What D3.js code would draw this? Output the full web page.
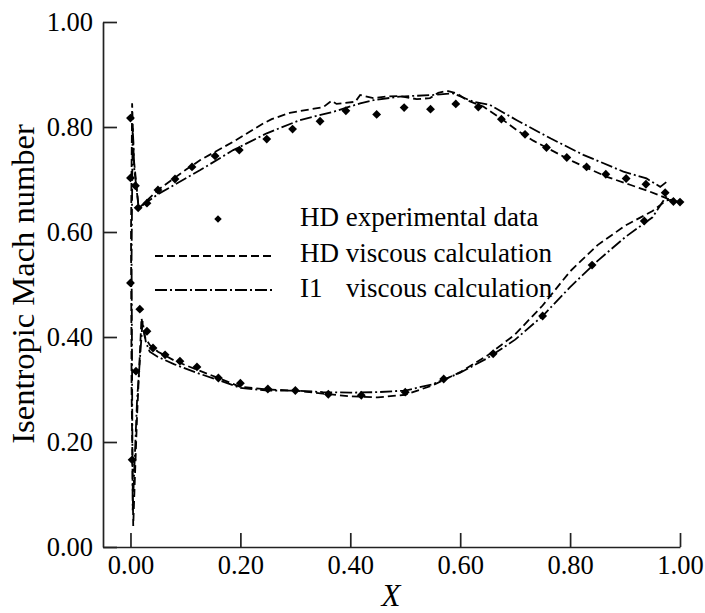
<!DOCTYPE html>
<html>
<head>
<meta charset="utf-8">
<script src="https://cdn.jsdelivr.net/npm/d3@7"></script>
<style>
  html, body { margin: 0; padding: 0; background: #fff; }
  svg { display: block; }
  text { font-family: "Liberation Serif", "Times New Roman", serif; fill: #000; }
</style>
</head>
<body>
<svg id="chart" width="705" height="613"></svg>
<script>
// Experimental isentropic Mach number (diamonds): suction side, then pressure side
const expX = [0, 0, 0.009, 0.014, 0.03, 0.05, 0.081, 0.112, 0.154, 0.198, 0.248, 0.295, 0.345, 0.392,
  0.448, 0.498, 0.546, 0.592, 0.633, 0.675, 0.718, 0.757, 0.794, 0.830, 0.865, 0.902, 0.938, 0.973,
  0.988, 1.0,
  0, 0.003, 0.01, 0.017, 0.03, 0.041, 0.063, 0.09, 0.121, 0.16, 0.2, 0.25, 0.3, 0.36, 0.42, 0.5,
  0.57, 0.66, 0.75, 0.84, 0.935];
const expM = [0.817, 0.703, 0.688, 0.646, 0.655, 0.680, 0.701, 0.724, 0.745, 0.756, 0.777, 0.796, 0.811, 0.831,
  0.824, 0.837, 0.834, 0.844, 0.838, 0.815, 0.786, 0.761, 0.742, 0.724, 0.710, 0.702, 0.691, 0.675,
  0.658, 0.657,
  0.503, 0.166, 0.335, 0.453, 0.411, 0.379, 0.366, 0.354, 0.343, 0.322, 0.312, 0.301, 0.298, 0.291, 0.289, 0.295,
  0.320, 0.368, 0.440, 0.537, 0.621];

// HD viscous calculation: trailing edge -> suction side -> leading edge -> pressure side -> trailing edge
const hdX = [1.0, 0.994, 0.976, 0.945, 0.909, 0.867, 0.806, 0.76, 0.733, 0.703, 0.676, 0.642, 0.612, 0.594,
  0.575, 0.56, 0.545, 0.521, 0.49, 0.466, 0.442, 0.418, 0.409, 0.375, 0.366, 0.351, 0.29, 0.257, 0.242,
  0.187, 0.127, 0.10, 0.08, 0.05, 0.03, 0.015, 0.006, 0.003, 0.001, 0.002, 0.005, 0.012, 0.02, 0.026,
  0.035, 0.05, 0.08, 0.12, 0.16, 0.2, 0.25, 0.3, 0.35, 0.4, 0.45, 0.5, 0.55, 0.6, 0.65, 0.7, 0.75, 0.8,
  0.85, 0.9, 0.95, 0.975, 0.99, 1.0];
const hdM = [0.655, 0.658, 0.664, 0.677, 0.690, 0.705, 0.734, 0.759, 0.774, 0.794, 0.815, 0.839, 0.851, 0.864,
  0.869, 0.865, 0.855, 0.853, 0.859, 0.858, 0.855, 0.861, 0.848, 0.844, 0.850, 0.838, 0.827, 0.815, 0.807,
  0.772, 0.737, 0.718, 0.703, 0.680, 0.660, 0.645, 0.740, 0.845, 0.600, 0.300, 0.040, 0.250, 0.436, 0.400,
  0.385, 0.372, 0.355, 0.338, 0.322, 0.305, 0.300, 0.298, 0.292, 0.287, 0.285, 0.290, 0.308, 0.333, 0.365,
  0.405, 0.460, 0.525, 0.575, 0.612, 0.640, 0.660, 0.662, 0.658];

// I1 viscous calculation, same ordering
const i1X = [0.975, 0.964, 0.939, 0.897, 0.824, 0.765, 0.703, 0.654, 0.624, 0.587, 0.551, 0.49, 0.442,
  0.418, 0.369, 0.308, 0.248, 0.187, 0.127, 0.08, 0.05, 0.03, 0.015, 0.007, 0.004, 0.002, 0.004, 0.012,
  0.022, 0.028, 0.035, 0.05, 0.08, 0.12, 0.16, 0.2, 0.25, 0.3, 0.35, 0.4, 0.45, 0.5, 0.55, 0.6, 0.65,
  0.7, 0.75, 0.8, 0.85, 0.9, 0.95, 0.97, 0.978];
const i1M = [0.695, 0.686, 0.702, 0.715, 0.747, 0.778, 0.813, 0.842, 0.848, 0.864, 0.861, 0.858, 0.851,
  0.845, 0.829, 0.813, 0.788, 0.756, 0.718, 0.690, 0.672, 0.657, 0.645, 0.720, 0.800, 0.550, 0.070, 0.280,
  0.430, 0.390, 0.372, 0.362, 0.348, 0.332, 0.318, 0.303, 0.298, 0.298, 0.295, 0.294, 0.295, 0.298, 0.310,
  0.332, 0.360, 0.395, 0.440, 0.495, 0.545, 0.590, 0.628, 0.660, 0.672];

const xTicks = [0, 0.2, 0.4, 0.6, 0.8, 1.0];
const yTicks = [0, 0.2, 0.4, 0.6, 0.8, 1.0];
const legendLabels = ["HD experimental data", "HD viscous calculation", "I1", "viscous calculation"];

const svg = d3.select("#chart");
const x = d3.scaleLinear().domain([-0.05, 1.0]).range([103, 680]);
const y = d3.scaleLinear().domain([0, 1.0]).range([547, 22]);
const fmt = d3.format(".2f");

// Axes: ticks point inward, no outer ticks
const gx = svg.append("g").attr("transform", `translate(0,${y(0)})`)
  .call(d3.axisBottom(x).tickValues(xTicks).tickFormat(fmt).tickSize(-14).tickSizeOuter(0).tickPadding(8));
const gy = svg.append("g").attr("transform", `translate(${x(-0.05)},0)`)
  .call(d3.axisLeft(y).tickValues(yTicks).tickFormat(fmt).tickSize(-14).tickSizeOuter(0).tickPadding(10));
[gx, gy].forEach(g => {
  g.selectAll("path.domain").attr("stroke", "#222").attr("stroke-width", 1.7);
  g.selectAll(".tick line").attr("stroke", "#222").attr("stroke-width", 1.7);
  g.selectAll(".tick text").attr("font-size", 26.5)
    .attr("font-family", '"Liberation Serif", "Times New Roman", serif').attr("fill", "#000");
});

// Axis titles
svg.append("text").attr("x", 391).attr("y", 606).attr("text-anchor", "middle")
  .attr("font-size", 31).attr("font-style", "italic").text("X");
svg.append("text").attr("transform", "translate(34,284) rotate(-90)").attr("text-anchor", "middle")
  .attr("font-size", 32.5).text("Isentropic Mach number");

// Calculated distributions
const line = d3.line().x(d => x(d[0])).y(d => y(d[1]));
const hdData = hdX.map((v, i) => [v, hdM[i]]);
const i1Data = i1X.map((v, i) => [v, i1M[i]]);
const dashHD = "8,4";
const dashI1 = "12,3,2,3";

svg.append("path").datum(hdData).attr("d", line).attr("fill", "none")
  .attr("stroke", "#000").attr("stroke-width", 1.8).attr("stroke-dasharray", dashHD);
svg.append("path").datum(i1Data).attr("d", line).attr("fill", "none")
  .attr("stroke", "#000").attr("stroke-width", 1.8).attr("stroke-dasharray", dashI1);

// Experimental points
const diamond = d3.symbol().type(d3.symbolDiamond2 || d3.symbolSquare).size(50);
svg.append("g").selectAll("path").data(expX.map((v, i) => [v, expM[i]])).join("path")
  .attr("d", diamond)
  .attr("transform", d => `translate(${x(d[0])},${y(d[1])})` + (d3.symbolDiamond2 ? "" : " rotate(45)"))
  .attr("fill", "#000");

// Legend
const lg = svg.append("g");
lg.append("path").attr("d", d3.symbol().type(d3.symbolDiamond2 || d3.symbolSquare).size(36))
  .attr("transform", "translate(218,219)" + (d3.symbolDiamond2 ? "" : " rotate(45)")).attr("fill", "#000");
lg.append("line").attr("x1", 155).attr("x2", 275).attr("y1", 256).attr("y2", 256)
  .attr("stroke", "#000").attr("stroke-width", 1.8).attr("stroke-dasharray", dashHD);
lg.append("line").attr("x1", 155).attr("x2", 275).attr("y1", 290).attr("y2", 290)
  .attr("stroke", "#000").attr("stroke-width", 1.8).attr("stroke-dasharray", dashI1);
lg.append("text").attr("x", 300).attr("y", 226).attr("font-size", 27).text(legendLabels[0]);
lg.append("text").attr("x", 300).attr("y", 262).attr("font-size", 27).text(legendLabels[1]);
const t3 = lg.append("text").attr("y", 297).attr("font-size", 27);
t3.append("tspan").attr("x", 300).text(legendLabels[2]);
t3.append("tspan").attr("x", 346).text(legendLabels[3]);
</script>
</body>
</html>
